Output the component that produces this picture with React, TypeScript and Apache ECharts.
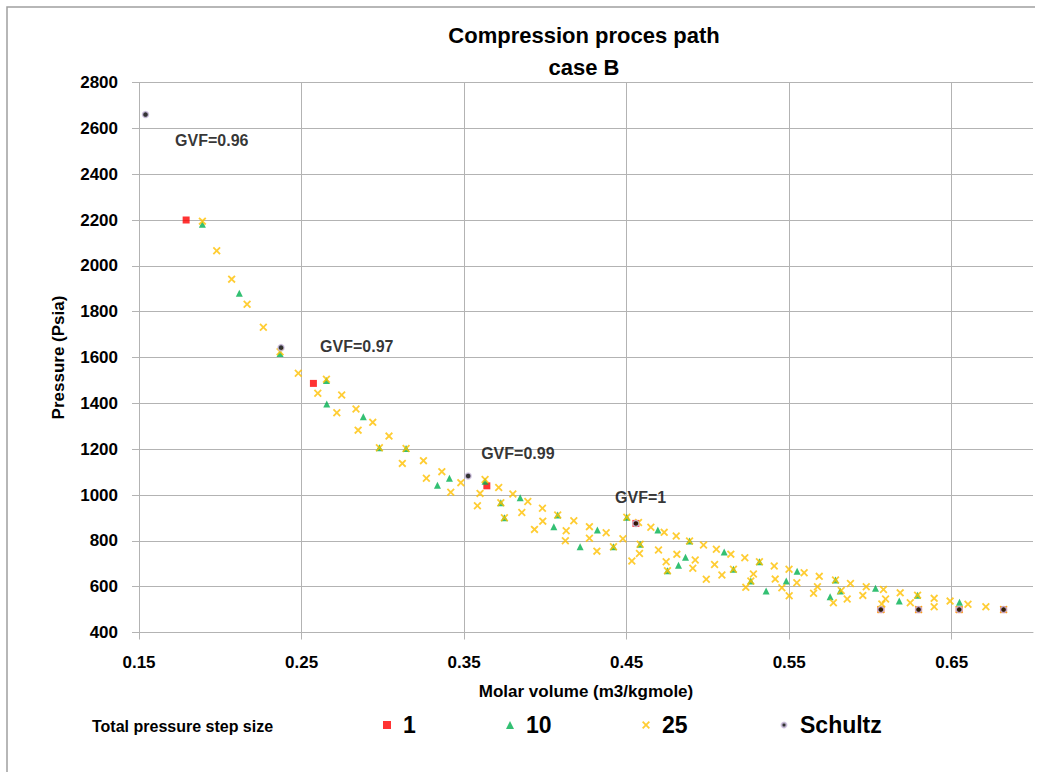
import React, { useEffect, useRef } from "react";
import * as echarts from "echarts";

const TITLE_LINES = ["Compression proces path", "case B"];
const X_NAME = "Molar volume (m3/kgmole)";
const Y_NAME = "Pressure (Psia)";
const X_TICKS = [0.15, 0.25, 0.35, 0.45, 0.55, 0.65];
const X_MIN = 0.15;
const X_MAX = 0.7;
const X_STEP = 0.1;
const Y_MIN = 400;
const Y_MAX = 2800;
const Y_STEP = 200;
const LEGEND_CAPTION = "Total pressure step size";
const SERIES_NAMES = ["1", "10", "25", "Schultz"];

// step size 1 (red squares)
const step1: number[][] = [
  [0.179, 2200], [0.2573, 1487], [0.364, 1040], [0.4557, 876],
  [0.6064, 500], [0.6296, 500], [0.6546, 500], [0.6819, 500],
];

// step size 10 (green triangles)
const step10: number[][] = [
  [0.189, 2181], [0.2117, 1880], [0.2368, 1618], [0.2653, 1500], [0.2655, 1397],
  [0.288, 1342], [0.2979, 1206], [0.3143, 1203], [0.3336, 1043], [0.341, 1073],
  [0.3629, 1060], [0.3726, 966], [0.3845, 988], [0.3748, 901], [0.4076, 913],
  [0.4052, 862], [0.4214, 774], [0.432, 847], [0.4419, 774], [0.4501, 903],
  [0.4583, 785], [0.4692, 847], [0.4751, 670], [0.4819, 693], [0.4862, 728],
  [0.4887, 799], [0.51, 751], [0.5157, 676], [0.5264, 625], [0.5317, 709],
  [0.5358, 581], [0.5482, 625], [0.5549, 667], [0.5785, 629], [0.5752, 556],
  [0.5814, 581], [0.6031, 593], [0.6177, 537], [0.629, 563], [0.6548, 532],
];

// step size 25 (yellow crosses)
const step25: number[][] = [
  [0.189, 2195], [0.1978, 2066], [0.207, 1942], [0.2165, 1832], [0.2265, 1732],
  [0.2368, 1625], [0.248, 1531], [0.26, 1444], [0.2653, 1505], [0.2717, 1359],
  [0.2747, 1436], [0.2835, 1375], [0.2848, 1283], [0.2938, 1317], [0.2979, 1206],
  [0.3038, 1257], [0.312, 1138], [0.3143, 1203], [0.325, 1150], [0.3268, 1073],
  [0.3363, 1102], [0.3418, 1012], [0.348, 1054], [0.3598, 1007], [0.3582, 953],
  [0.3629, 1068], [0.3713, 1033], [0.3726, 966], [0.38, 1004], [0.3748, 901],
  [0.3855, 924], [0.3892, 972], [0.3982, 942], [0.3984, 886], [0.3933, 850],
  [0.4076, 913], [0.4128, 844], [0.4123, 800], [0.4175, 888], [0.4271, 862],
  [0.4271, 811], [0.4317, 755], [0.4374, 835], [0.4419, 774], [0.4477, 809],
  [0.4501, 903], [0.4573, 880], [0.4583, 785], [0.4579, 745], [0.4532, 712],
  [0.4649, 859], [0.4731, 837], [0.4696, 760], [0.4743, 709], [0.4751, 670],
  [0.4805, 821], [0.4809, 741], [0.4887, 799], [0.4922, 716], [0.4907, 680],
  [0.4973, 782], [0.499, 632], [0.5041, 697], [0.5052, 763], [0.5141, 742],
  [0.5086, 651], [0.5157, 676], [0.5227, 726], [0.5264, 625], [0.528, 655],
  [0.5233, 597], [0.5317, 709], [0.5408, 690], [0.5414, 633], [0.5455, 595],
  [0.5499, 676], [0.55, 560], [0.5547, 617], [0.5592, 661], [0.565, 571],
  [0.5674, 600], [0.5685, 645], [0.5785, 629], [0.5772, 530], [0.582, 583],
  [0.5857, 546], [0.5877, 614], [0.5953, 562], [0.5974, 600], [0.608, 588],
  [0.6093, 546], [0.607, 524], [0.6064, 500], [0.6183, 573], [0.6245, 530],
  [0.629, 563], [0.6296, 500], [0.6392, 549], [0.6392, 512], [0.649, 537],
  [0.6546, 500], [0.66, 523], [0.671, 512], [0.6819, 500],
];

// Schultz (black dots)
const schultz: number[][] = [
  [0.154, 2660], [0.2374, 1643], [0.3525, 1083], [0.4557, 876],
  [0.6064, 500], [0.6296, 500], [0.6546, 500], [0.6819, 500],
];

// GVF annotations (anchored at the left edge of each label)
const GVF_TEXT = ["GVF=0.96", "GVF=0.97", "GVF=0.99", "GVF=1"];
const GVF_X = [0.1722, 0.2614, 0.3605, 0.4429];
const GVF_Y = [2549, 1650, 1183, 987];

const COLORS = ["#FF0000", "#00B050", "#FFC000", "#000000"];
const CROSS =
  "path://M0,1.6L1.6,0L5,3.4L8.4,0L10,1.6L6.6,5L10,8.4L8.4,10L5,6.6L1.6,10L0,8.4L3.4,5Z";

const FONT = "'Liberation Sans', Arial, sans-serif";
const GRID_COLOR = "#b3b3b3";

export default function App() {
  const ref = useRef<HTMLDivElement>(null);

  useEffect(() => {
    document.body.style.margin = "0";
    if (!ref.current) return;
    const chart = echarts.init(ref.current, undefined, { renderer: "svg" });
    const legendCenter = [387, 510, 646, 783];
    const legendSize = [8, 8, 8, 5];

    const option: any = {
      animation: false,
      backgroundColor: "#ffffff",
      textStyle: { fontFamily: FONT },
      title: {
        text: TITLE_LINES.join("\n"),
        left: 584,
        top: 19,
        padding: 0,
        textAlign: "center",
        textStyle: {
          fontFamily: FONT,
          fontSize: 22,
          fontWeight: "bold",
          color: "#000",
          lineHeight: 32,
        },
      },
      legend: SERIES_NAMES.map((n, i) => ({
        data: [n],
        left: legendCenter[i] - legendSize[i] / 2,
        top: 711,
        padding: 0,
        itemWidth: legendSize[i],
        itemHeight: legendSize[i],
        selectedMode: false,
        textStyle: {
          fontFamily: FONT,
          fontSize: 23,
          fontWeight: "bold",
          color: "#000",
          lineHeight: 28,
          padding: [0, 0, 0, 16 - legendSize[i] / 2 - 5],
        },
      })),
      graphic: [
        {
          type: "polyline",
          shape: { points: [[7, 772], [7, 7], [1035, 7]] },
          style: { stroke: "#a0a0a0", lineWidth: 1.5, fill: "none" },
          silent: true,
        },
        {
          type: "text",
          left: 92,
          top: 718,
          style: {
            text: LEGEND_CAPTION,
            font: `bold 16px ${FONT}`,
            fill: "#000",
          },
        },
      ],
      grid: {
        left: 139,
        right: 21,
        top: 82.5,
        bottom: 139.5,
        containLabel: false,
        outerBoundsMode: "none",
      },
      xAxis: {
        type: "value",
        min: X_MIN,
        max: X_MAX,
        interval: X_STEP,
        name: X_NAME,
        nameLocation: "middle",
        nameGap: 50,
        nameTextStyle: { fontFamily: FONT, fontSize: 17, fontWeight: "bold", color: "#000" },
        axisLine: { show: true, onZero: false, lineStyle: { color: GRID_COLOR } },
        axisTick: { show: true, length: 7, lineStyle: { color: GRID_COLOR } },
        axisLabel: {
          margin: 21,
          fontFamily: FONT,
          fontSize: 17,
          fontWeight: "bold",
          color: "#000",
          showMaxLabel: false,
          formatter: (v: number) =>
            X_TICKS.some((t) => Math.abs(t - v) < 1e-6) ? v.toFixed(2) : "",
        },
        splitLine: { show: true, showMaxLine: false, lineStyle: { color: GRID_COLOR } },
      },
      yAxis: {
        type: "value",
        min: Y_MIN,
        max: Y_MAX,
        interval: Y_STEP,
        name: Y_NAME,
        nameLocation: "middle",
        nameRotate: 90,
        nameGap: 72,
        nameTextStyle: { fontFamily: FONT, fontSize: 17, fontWeight: "bold", color: "#000" },
        axisLine: { show: true, lineStyle: { color: GRID_COLOR } },
        axisTick: { show: true, length: 7, lineStyle: { color: GRID_COLOR } },
        axisLabel: {
          margin: 21,
          fontFamily: FONT,
          fontSize: 17,
          fontWeight: "bold",
          color: "#000",
          formatter: (v: number) => String(v),
        },
        splitLine: { show: true, lineStyle: { color: GRID_COLOR } },
      },
      series: [
        {
          name: SERIES_NAMES[0],
          type: "scatter",
          data: step1,
          symbol: "rect",
          symbolSize: 7,
          itemStyle: { color: COLORS[0] },
        },
        {
          name: SERIES_NAMES[1],
          type: "scatter",
          data: step10,
          symbol: "triangle",
          symbolSize: 7,
          itemStyle: { color: COLORS[1] },
        },
        {
          name: SERIES_NAMES[2],
          type: "scatter",
          data: step25,
          symbol: CROSS,
          symbolSize: 8,
          itemStyle: { color: COLORS[2] },
        },
        {
          name: SERIES_NAMES[3],
          type: "scatter",
          data: schultz,
          symbol: "circle",
          symbolSize: 6,
          itemStyle: { color: COLORS[3], borderColor: "#cdbfe0", borderWidth: 1.5 },
        },
        {
          name: "GVF",
          type: "scatter",
          data: GVF_TEXT.map((t, i) => ({ value: [GVF_X[i], GVF_Y[i]], name: t })),
          symbolSize: 0,
          silent: true,
          label: {
            show: true,
            position: "right",
            distance: 0,
            formatter: (p: any) => p.name,
            fontFamily: FONT,
            fontSize: 16,
            fontWeight: "bold",
            color: "#000",
            textBorderWidth: 0,
          },
        },
      ],
    };

    chart.setOption(option);
    return () => chart.dispose();
  }, []);

  return <div ref={ref} style={{ width: 1054, height: 772 }} />;
}
